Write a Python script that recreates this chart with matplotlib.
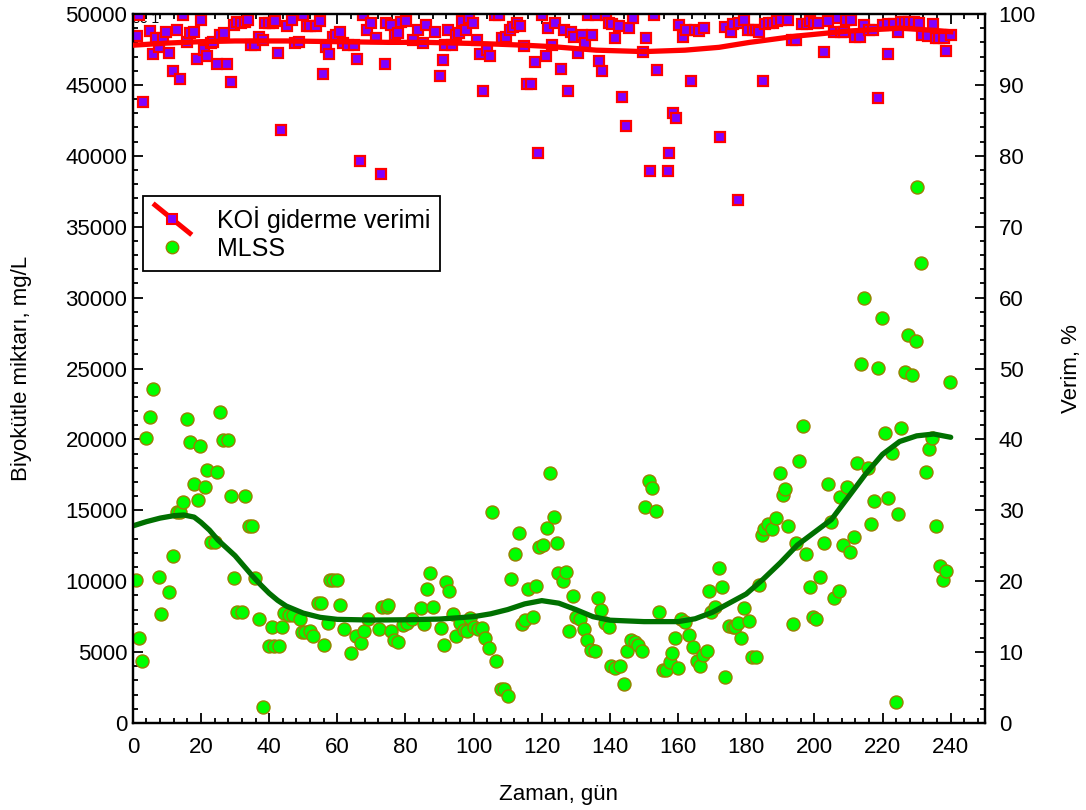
import matplotlib
matplotlib.use('Agg')
import matplotlib.pyplot as plt
from matplotlib.lines import Line2D
from matplotlib.legend_handler import HandlerBase
from matplotlib.ticker import MultipleLocator

plt.rcParams['font.family'] = ['Liberation Sans', 'DejaVu Sans']

# MLSS (biomass) measurements, mg/L
mlss_day = [
    0.9, 1.9, 2.8, 3.8, 5.0, 5.8, 7.6, 8.4, 10.7, 11.7, 12.9, 13.8, 14.8, 15.8,
    16.8, 18.0, 19.0, 19.7, 21.1, 21.9, 22.9, 24.2, 24.6, 25.6, 26.6, 27.8, 28.8,
    29.7, 30.7, 32.0, 32.9, 34.0, 35.1, 35.9, 37.0, 38.1, 40.1, 40.8, 41.5, 42.9,
    43.8, 44.5, 45.7, 47.0, 49.0, 49.7, 50.6, 51.9, 52.9, 54.3, 55.3, 56.2, 57.4,
    57.8, 58.8, 60.0, 60.7, 61.9, 63.9, 65.5, 67.0, 67.8, 69.0, 72.2, 73.2, 74.5,
    74.9, 75.9, 76.6, 77.9, 79.4, 80.4, 82.0,
    84.5, 85.3, 86.3, 87.2, 88.2, 90.4, 91.4, 91.9, 92.9, 93.9, 94.9, 96.1, 97.1,
    98.1, 99.0, 100.2, 101.4, 102.4, 103.4, 104.4, 105.3, 106.5, 107.9, 109.0,
    110.0, 111.0, 112.2, 113.2, 114.1, 115.1, 116.1, 117.3, 118.4, 119.3, 120.4,
    121.4, 122.4, 123.6, 124.5, 124.9, 126.2, 127.0, 128.1, 129.1, 130.1, 131.3,
    132.3, 133.4, 134.4, 135.6, 136.5, 137.5, 138.5, 139.7, 140.2, 141.4, 143.1,
    144.2, 145.1, 146.1, 147.3, 148.3, 149.3, 150.3, 151.4, 152.4, 153.6, 154.4,
    155.7, 156.6, 157.6, 158.1, 159.1, 160.1, 161.0, 162.0, 163.3, 164.5, 165.5,
    166.4, 167.4, 168.4,
    169.0, 169.6, 170.9, 171.9, 172.9, 173.9, 174.9, 176.0, 176.8, 177.7, 178.5,
    179.4, 180.7, 181.7, 182.9, 183.6, 184.6, 185.3, 186.3, 187.5, 188.7, 189.9,
    190.9, 191.4, 192.4, 193.6, 194.6, 195.6, 196.7, 197.6, 198.7, 199.6, 200.6,
    201.6, 202.8, 203.9, 204.9, 205.9, 207.1, 207.5, 208.5, 209.5, 210.5, 211.7,
    212.6, 213.6, 214.6, 215.7, 216.6, 217.6, 218.8, 219.8, 220.8, 221.7, 222.9,
    223.9, 224.5, 225.5, 226.5, 227.5, 228.6, 229.7, 230.1, 231.3, 232.7, 233.7,
    234.6, 235.6, 236.8, 237.8, 238.7, 239.8,
]
mlss_val = [
    10085, 5970, 4373, 20077, 21560, 23530, 10320, 7690, 9216, 11780, 14900, 14900,
    15610, 21420, 19840, 16860, 15730, 19540, 16620, 17840, 12790, 12790, 17680,
    21930, 19960, 19960, 16010, 10200, 7850, 7850, 16010, 13890, 13890, 10200, 7360,
    1150, 5450, 6750, 5450, 5450, 6750, 7735, 7620, 7620, 7335, 6395, 6395, 6510,
    6140, 8440, 8440, 5500, 7080, 10085, 10085, 10085, 8320, 6610, 4910, 6140, 5620,
    6510, 7310, 6610, 8200, 8200, 8320, 6510, 5850, 5740, 6910, 7030, 7310,
    8090, 6960, 9430, 10560, 8200, 6680, 5500, 9970, 9330, 7690, 6140, 7030, 6560,
    6510, 7380, 6790, 6610, 6680, 5970, 5270, 14860, 4373, 2400, 2400, 1900, 10180,
    11920, 13380, 6960, 7260, 9430, 7450, 9660, 12390, 12550, 13730, 17610, 14510,
    12670, 10600, 10040, 10670, 6470, 8960, 7500, 7335, 6610, 5850, 5150, 5100,
    8820, 7970, 7030, 6790, 4020, 3880, 4020, 2750, 5100, 5850, 5740, 5500, 5100,
    15260, 17090, 16600, 14980, 7830, 3740, 3740, 4330, 4960, 5990, 3860, 7310,
    7150, 6180, 5380, 4370, 4020, 4800, 5100,
    9330, 7850, 8200, 10960, 9570, 3270, 6840, 6750, 6790, 7030, 5970, 8090, 7220,
    4630, 4630, 9710, 13260, 13660, 14010, 13660, 14440, 17610, 16080, 16500, 13890,
    6980, 12670, 18480, 20950, 11920, 9570, 7450, 7340, 10320, 12670, 16860, 14150,
    8790, 9330, 15960, 12550, 16620, 12040, 13140, 18310, 25300, 29950, 17960,
    14010, 15660, 25010, 28590, 20430, 15850, 19070, 1500, 14740, 20830, 24780,
    27370, 24550, 26970, 37800, 32440, 17730, 19330, 20080, 13890, 11100, 10090,
    10720, 24030,
]

# smoothed MLSS trend
mlss_fit_day = [0, 4, 8, 12, 15, 18, 20, 22.5, 25, 27.5, 30, 32.5, 35, 37.5, 40,
                42.5, 45, 50, 55, 60, 70, 80, 90, 100, 105, 110, 115, 120, 125,
                130, 135, 140, 150, 160, 165, 170, 175, 180, 185, 190, 195, 200,
                205, 210, 215, 220, 225, 230, 235, 240]
mlss_fit_val = [13900, 14200, 14450, 14620, 14670, 14520, 14150, 13600, 12900,
                12350, 11800, 11100, 10400, 9750, 9150, 8650, 8250, 7750, 7450,
                7310, 7260, 7280, 7330, 7500, 7700, 8000, 8400, 8630, 8450, 8000,
                7500, 7250, 7150, 7150, 7350, 7800, 8450, 9100, 10150, 11300,
                12550, 13450, 14350, 15950, 17550, 18950, 19850, 20250, 20380,
                20150]

# COD removal efficiency, %
koi_day = [
    1.1, 1.9, 2.9, 5.0, 5.8, 6.8, 7.8, 8.8, 9.7, 10.7, 11.7, 12.9, 13.8, 14.8, 15.8,
    16.9, 17.9, 18.9, 19.9, 20.9, 21.8, 22.8, 23.6, 24.6, 25.6, 26.7, 27.7, 28.7,
    29.7, 30.6, 31.6, 32.9, 33.9, 34.8, 35.8, 37.0, 38.1, 38.8, 40.0, 41.0, 41.7,
    42.7, 43.6, 45.1, 46.6, 47.5, 48.8, 49.8, 51.0, 51.9, 53.7, 54.9, 55.8, 56.8,
    57.6, 58.6, 59.6, 60.7, 61.7, 63.2, 64.8, 65.8, 66.8, 67.6, 68.7, 70.0, 71.5,
    72.9, 73.9, 74.4, 75.9, 76.9, 77.8, 78.8, 80.3, 82.2, 83.7, 85.1, 86.1,
    88.6, 90.0, 91.0, 91.5, 92.5, 93.8, 94.7, 95.7, 96.7, 97.9, 98.6, 99.8, 101.0,
    101.8, 102.9, 103.9, 104.9, 106.2, 107.4, 108.4, 109.6, 110.6, 111.7, 112.7,
    113.7, 114.7, 115.6, 116.8, 117.9, 119.0, 120.1, 121.2, 121.8, 123.1, 124.0,
    125.6, 126.4, 127.7, 128.6, 129.4, 130.7, 131.8, 132.7, 133.5, 134.8, 135.8,
    136.7, 137.7, 138.9, 139.7, 140.6, 141.6, 142.6, 143.6, 144.6, 145.5, 146.7,
    149.6, 150.6, 151.8, 152.8, 153.8, 156.9, 157.4, 158.4, 159.4, 160.2, 161.4,
    162.3, 163.7, 165.1, 166.0, 167.7, 172.3,
    173.9, 175.5, 176.0, 177.5, 178.0, 179.4, 180.4, 181.9, 182.9, 183.6, 184.8,
    185.6, 186.8, 188.0, 189.0, 190.2, 192.4, 193.5, 194.6, 196.5, 197.7, 198.7,
    199.9, 201.2, 202.9, 203.9, 205.8, 206.8, 207.8, 208.8, 209.2, 210.7, 211.9,
    213.3, 214.6, 216.0, 217.2, 218.8, 220.1, 221.7, 221.7, 223.4, 224.5, 225.3,
    226.6, 227.8, 229.3, 230.7, 231.7, 233.4, 234.8, 235.8, 236.7, 238.0, 238.7,
    240.0,
]
koi_val = [
    96.9, 99.9, 87.6, 97.6, 94.4, 96.6, 95.4, 96.6, 97.5, 94.5, 91.9, 97.7, 90.8,
    99.9, 96.1, 97.3, 97.5, 93.6, 99.2, 94.9, 94.1, 95.9, 96.1, 93.0, 97.0, 97.3,
    93.0, 90.4, 98.4, 98.9, 98.8, 98.9, 99.2, 95.6, 95.6, 96.7, 96.3, 98.8, 98.7,
    98.7, 99.0, 94.5, 83.7, 98.3, 99.2, 95.9, 96.1, 99.9, 98.3, 98.3, 98.3, 99.0,
    91.6, 95.4, 94.4, 96.8, 97.0, 97.5, 95.9, 95.6, 95.6, 93.6, 79.2, 99.9, 97.8,
    98.8, 96.6, 77.5, 93.0, 98.8, 98.4, 97.0, 97.3, 98.9, 99.0, 96.4, 97.7, 95.9,
    98.4,
    97.5, 91.3, 93.5, 95.6, 97.7, 95.6, 97.0, 97.3, 99.0, 97.7, 99.5, 98.8, 96.4,
    94.4, 89.1, 94.9, 94.1, 99.9, 99.9, 96.6, 96.8, 97.8, 98.2, 98.7, 98.3, 95.5,
    90.1, 90.1, 93.3, 80.4, 99.9, 94.1, 98.0, 95.6, 98.8, 92.3, 97.8, 89.1, 97.5,
    96.8, 94.5, 97.0, 95.9, 99.9, 97.0, 99.9, 93.4, 91.9, 99.9, 98.8, 98.6, 96.6,
    98.3, 88.3, 84.2, 98.0, 99.5, 94.7, 96.6, 77.8, 99.9, 92.1, 77.8, 80.4, 86.0,
    85.4, 98.4, 96.7, 97.7, 90.6, 97.7, 97.6, 98.0, 82.7,
    98.2, 97.5, 98.6, 73.8, 98.8, 99.2, 97.8, 97.8, 97.8, 97.5, 90.6, 98.6, 98.8,
    98.8, 99.0, 99.2, 99.2, 96.4, 96.4, 98.6, 98.6, 99.0, 98.8, 98.8, 94.7, 99.0,
    97.4, 99.4, 97.4, 97.4, 99.2, 99.2, 96.7, 96.7, 98.4, 97.8, 97.8, 88.1, 98.4,
    94.4, 98.6, 98.6, 97.4, 98.9, 98.9, 98.9, 98.9, 98.8, 97.0, 96.9, 98.6, 96.6,
    96.6, 96.6, 94.8, 97.0,
]

# smoothed COD removal trend
koi_fit_day = [0, 10, 20, 30, 45, 60, 75, 86, 95, 104, 115, 123, 136, 150, 162,
               172, 181, 195, 210, 225, 235, 240]
koi_fit_val = [95.6, 95.9, 96.1, 96.2, 96.2, 96.1, 96.0, 96.0, 95.9, 95.8, 95.6,
               95.4, 94.9, 94.7, 94.9, 95.3, 96.0, 96.9, 97.6, 98.0, 97.7, 97.5]

KOI_FILL, KOI_EDGE = '#8000ff', '#ff0000'
MLSS_FILL, MLSS_EDGE = '#00ff00', '#9a8000'
FS = 16


class DiagonalLineHandler(HandlerBase):
    """Legend key drawn as a slanted line with the square marker on top."""

    def create_artists(self, legend, orig_handle, xdescent, ydescent,
                       width, height, fontsize, trans):
        x0, x1 = -xdescent, width - xdescent
        y0, y1 = -ydescent - 5, height - ydescent + 5
        line = Line2D([x0, x1], [y1, y0], color=KOI_EDGE, lw=3.6,
                      solid_capstyle='butt', transform=trans)
        mark = Line2D([(x0 + x1) / 2], [(y0 + y1) / 2], ls='none', marker='s',
                      ms=7.5, mfc=KOI_FILL, mec=KOI_EDGE, mew=1.5,
                      transform=trans)
        return [line, mark]


fig = plt.figure(figsize=(10.86, 8.10), dpi=100)
ax = fig.add_axes([0.1223, 0.1074, 0.7845, 0.8753])
ax2 = ax.twinx()

ax.set_xlim(0, 250)
ax.set_ylim(0, 50000)
ax2.set_ylim(0, 100)

# leftover panel tag in the corner, sits under the markers
ax.text(0.05, 49350, 'se 1', ha='left', va='baseline', fontsize=10,
        clip_on=True, zorder=0)

ax.scatter(mlss_day, mlss_val, s=13 ** 2 * 0.52, c=MLSS_FILL,
           edgecolors=MLSS_EDGE, linewidths=1.0, zorder=2)
ax.plot(mlss_fit_day, mlss_fit_val, color='#007000', lw=3.8, zorder=3,
        solid_capstyle='round', solid_joinstyle='round')

ax2.plot(koi_day, koi_val, ls='none', marker='s', ms=7.5, mfc=KOI_FILL,
         mec=KOI_EDGE, mew=1.6, zorder=2)
ax2.plot(koi_fit_day, koi_fit_val, color=KOI_EDGE, lw=3.8, zorder=3,
         solid_joinstyle='round')

# ticks: inward on all four sides
ax.xaxis.set_major_locator(MultipleLocator(20))
ax.xaxis.set_minor_locator(MultipleLocator(4))
ax.yaxis.set_major_locator(MultipleLocator(5000))
ax.yaxis.set_minor_locator(MultipleLocator(1000))
ax2.yaxis.set_major_locator(MultipleLocator(10))
ax2.yaxis.set_minor_locator(MultipleLocator(2))
ax.tick_params(which='both', direction='in', top=True, right=False,
               labelsize=FS, width=1.3)
ax.tick_params(axis='x', which='major', length=7, pad=10)
ax.tick_params(axis='y', which='major', length=7, pad=4)
ax.tick_params(which='minor', length=3.5)
ax2.tick_params(which='both', direction='in', labelsize=FS, width=1.3)
ax2.tick_params(which='major', length=7, pad=10)
ax2.tick_params(which='minor', length=3.5)
for a in (ax, ax2):
    for sp in a.spines.values():
        sp.set_linewidth(1.6)

ax.set_xlabel('Zaman, gün', fontsize=FS, labelpad=19)
ax.set_ylabel('Biyokütle miktarı, mg/L', fontsize=FS, labelpad=24)
ax2.set_ylabel('Verim, %', fontsize=FS, labelpad=18)

koi_handle = Line2D([], [], color=KOI_EDGE)
mlss_handle = Line2D([], [], ls='none', marker='o', ms=9, mfc=MLSS_FILL,
                     mec=MLSS_EDGE, mew=1.0)
leg = ax2.legend([koi_handle, mlss_handle], ['KOİ giderme verimi', 'MLSS'],
                 handler_map={koi_handle: DiagonalLineHandler()},
                 loc='upper left', bbox_to_anchor=(0.012, 0.743),
                 borderaxespad=0, prop={'size': 18}, fancybox=False,
                 framealpha=1, edgecolor='black', handlelength=1.55,
                 handletextpad=1.0, borderpad=0.4, labelspacing=0.15)
leg.get_frame().set_linewidth(1.3)

fig.savefig('out.png', dpi=100)
